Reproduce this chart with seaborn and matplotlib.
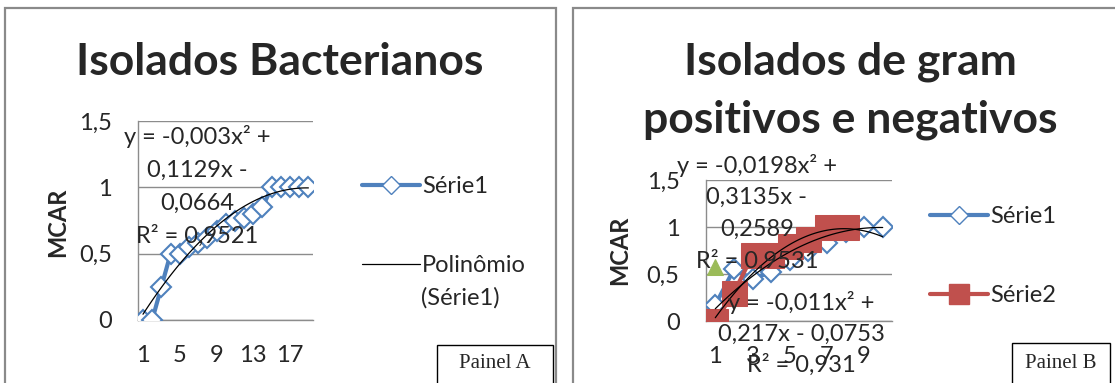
import numpy as np
import matplotlib
matplotlib.use("Agg")
import matplotlib.pyplot as plt
import seaborn as sns
from matplotlib.lines import Line2D
from matplotlib.patches import Rectangle

# Painel A - Isolados Bacterianos
a_x = list(range(1, 20))
a_serie1 = [0, 0, 0.25, 0.5, 0.5, 0.55, 0.58, 0.62, 0.67, 0.72,
            0.75, 0.77, 0.8, 0.85, 1, 1, 1, 1, 1]
a_trend = [-0.003, 0.1129, -0.0664]
a_eq = ["y = -0,003x² +", "0,1129x -", "0,0664", "R² = 0,9521"]
a_xticks = [1, 5, 9, 13, 17]

# Painel B - gram positivos e negativos
b_x1 = list(range(1, 11))
b_serie1 = [0.17, 0.55, 0.45, 0.52, 0.65, 0.75, 0.83, 0.95, 1, 1]
b_x2 = list(range(1, 9))
b_serie2 = [0, 0.3, 0.7, 0.7, 0.8, 0.87, 1, 1]
b_x3 = [1]
b_serie3 = [0.57]
b_trend1 = [-0.0198, 0.3135, -0.2589]
b_trend2 = [-0.011, 0.217, -0.0753]
b_eq1 = ["y = -0,0198x² +", "0,3135x -", "0,2589", "R² = 0,9531"]
b_eq2 = ["y = -0,011x² +", "0,217x - 0,0753", "R² = 0,931"]
b_xticks = [1, 3, 5, 7, 9]

y_ticks = [0, 0.5, 1, 1.5]
y_labels = ["0", "0,5", "1", "1,5"]

BLUE = "#4F81BD"
RED = "#C0504D"
GREEN = "#9BBB59"
GRID = "#8c8c8c"
FS = 17

sns.set_theme(style="white")
plt.rcParams['font.family'] = ['Lato', 'DejaVu Sans']

W, H = 1115, 383
fig = plt.figure(figsize=(W / 100, H / 100), dpi=100)


def px(x0, y0, x1, y1):
    # pixel box (top-down) -> figure fraction rect
    return [x0 / W, 1 - y1 / H, (x1 - x0) / W, (y1 - y0) / H]


def ftext(x, y, s, ha="center", **kw):
    fig.text(x / W, 1 - y / H, s, ha=ha, va="center", **kw)


def style_axes(ax, n, ticks):
    ax.set_xlim(0.5, n + 0.5)
    ax.set_ylim(0, 1.5)
    ax.set_yticks(y_ticks)
    ax.set_yticklabels(y_labels)
    ax.set_xticks(ticks)
    ax.set_xticklabels([str(t) for t in ticks])
    ax.grid(axis="y", color=GRID, lw=1)
    ax.grid(axis="x", visible=False)
    for s in ["top", "right"]:
        ax.spines[s].set_visible(False)
    for s in ["left", "bottom"]:
        ax.spines[s].set_color(GRID)
        ax.spines[s].set_linewidth(1)
    ax.tick_params(axis="y", length=0, pad=19, labelsize=FS)
    ax.tick_params(axis="x", length=0, pad=18, labelsize=FS)
    ax.set_xlabel("")
    ax.set_ylabel("")
    ax.set_facecolor("none")


# ---- Painel A ----
axA = fig.add_axes(px(138.4, 121, 313, 320))
sns.lineplot(x=a_x, y=a_serie1, ax=axA, color=BLUE, lw=3, marker="D",
             markersize=10, markerfacecolor="white", markeredgecolor=BLUE,
             markeredgewidth=1.5, zorder=3)
ga = np.linspace(min(a_x), max(a_x), 100)
sns.lineplot(x=ga, y=np.polyval(a_trend, ga), ax=axA, color="black",
             lw=0.9, zorder=4)
style_axes(axA, len(a_x), a_xticks)

# ---- Painel B ----
axB = fig.add_axes(px(706, 180, 892, 321))
sns.lineplot(x=b_x1, y=b_serie1, ax=axB, color=BLUE, lw=3, marker="D",
             markersize=10, markerfacecolor="white", markeredgecolor=BLUE,
             markeredgewidth=1.5, zorder=3)
sns.lineplot(x=b_x2, y=b_serie2, ax=axB, color=RED, lw=3, marker="s",
             markersize=18, markerfacecolor=RED, markeredgecolor=RED,
             zorder=3)
sns.lineplot(x=b_x3, y=b_serie3, ax=axB, color=GREEN, lw=0, marker="^",
             markersize=12, markerfacecolor=GREEN, markeredgecolor=GREEN,
             zorder=3)
gb = np.linspace(min(b_x1), max(b_x1), 100)
for coef in (b_trend1, b_trend2):
    sns.lineplot(x=gb, y=np.polyval(coef, gb), ax=axB, color="black",
                 lw=0.9, zorder=4)
style_axes(axB, len(b_x1), b_xticks)

# ---- titles, labels ----
ftext(280, 62, "Isolados Bacterianos", fontsize=32, fontweight="bold")
ftext(850, 62, "Isolados de gram", fontsize=32, fontweight="bold")
ftext(850, 120, "positivos e negativos", fontsize=32, fontweight="bold")
ftext(58, 222, "MCAR", fontsize=17, fontweight="bold", rotation=90)
ftext(620, 250, "MCAR", fontsize=17, fontweight="bold", rotation=90)

for i, s in enumerate(a_eq):
    ftext(197, 137 + 33 * i, s, fontsize=FS)
for i, s in enumerate(b_eq1):
    ftext(757, 165 + 32 * i, s, fontsize=FS)
for i, s in enumerate(b_eq2):
    ftext(801, 303 + 31 * i, s, fontsize=FS)

# ---- legends ----
h_s1 = Line2D([], [], color=BLUE, lw=3, marker="D", markersize=9,
              markerfacecolor="white", markeredgecolor=BLUE)
h_pol = Line2D([], [], color="black", lw=0.9)
h_s2 = Line2D([], [], color=RED, lw=3, marker="s", markersize=14,
              markerfacecolor=RED, markeredgecolor=RED)
legA = fig.legend([h_s1, h_pol], ["Série1", "Polinômio"], loc="upper left",
                  bbox_to_anchor=(362 / W, 1 - 176 / H), frameon=False,
                  fontsize=FS, handlelength=2.45, handletextpad=0.1,
                  labelspacing=2.45, borderpad=0, borderaxespad=0)
ftext(421, 298, "(Série1)", ha="left", fontsize=FS)
legB = fig.legend([h_s1, h_s2], ["Série1", "Série2"], loc="upper left",
                  bbox_to_anchor=(930 / W, 1 - 206 / H), frameon=False,
                  fontsize=FS, handlelength=2.45, handletextpad=0.1,
                  labelspacing=2.45, borderpad=0, borderaxespad=0)

# ---- frames ----
fig.add_artist(Rectangle((5 / W, -0.2), (556 - 5) / W, 1.2 - 8 / H,
                         transform=fig.transFigure, fill=False,
                         ec="#8a8a8a", lw=1.6))
fig.add_artist(Rectangle((573 / W, -0.2), (1125 - 573) / W, 1.2 - 8 / H,
                         transform=fig.transFigure, fill=False,
                         ec="#8a8a8a", lw=1.6))
fig.add_artist(Rectangle((437 / W, -0.2), (553 - 437) / W, 0.2 + 1 - 345 / H,
                         transform=fig.transFigure, fill=False,
                         ec="black", lw=1))
fig.add_artist(Rectangle((1012 / W, -0.2), (1110 - 1012) / W,
                         0.2 + 1 - 343 / H, transform=fig.transFigure,
                         fill=False, ec="black", lw=1))
ftext(495, 364, "Painel A", fontsize=15, family="Liberation Serif")
ftext(1061, 363, "Painel B", fontsize=15, family="Liberation Serif")

fig.savefig("out.png", dpi=100)
